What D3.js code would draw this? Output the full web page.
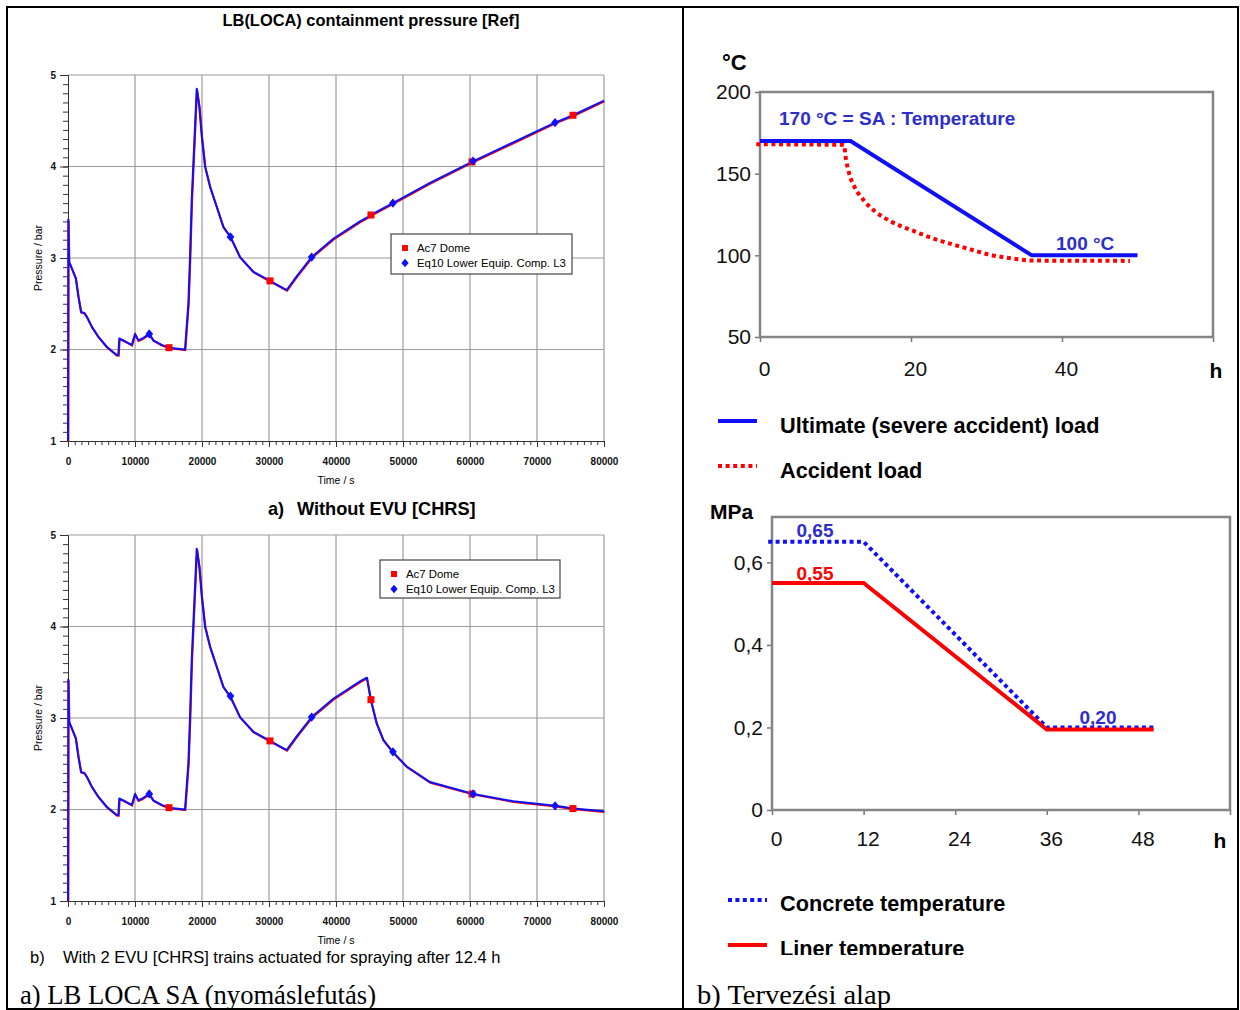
<!DOCTYPE html>
<html>
<head>
<meta charset="utf-8">
<script src="https://cdn.jsdelivr.net/npm/d3@7"></script>
<style>
  body { margin: 0; background: #fff; }
  svg { display: block; font-family: "Liberation Sans", Arial, sans-serif; }
</style>
</head>
<body>
<svg id="fig" width="1240" height="1010"></svg>
<script>
// ---------------- data ----------------
// Left: LB LOCA containment pressure (bar) versus time (s)
const timeTicks = [0, 10000, 20000, 30000, 40000, 50000, 60000, 70000, 80000];
const pressureTicks = [1, 2, 3, 4, 5];

// common history until spray actuation at 12.4 h
const baseTime = [0, 45, 150, 550, 1150, 1540, 1940, 2430, 2790, 3540, 4520, 5780, 7270, 7510,
  7660, 8510, 9510, 10000, 10490, 11090, 12130, 12730, 13990, 15070, 17460, 17960, 18210, 18460,
  19210, 19600, 19960, 20450, 21190, 22190, 23180, 24250, 25670, 27660, 30150, 32640, 34130,
  36370, 39600, 43580, 44600];
const basePressure = [1.00, 3.42, 2.96, 2.89, 2.78, 2.58, 2.41, 2.40, 2.36, 2.25, 2.14, 2.03, 1.94, 1.94,
  2.12, 2.09, 2.05, 2.17, 2.10, 2.12, 2.17, 2.10, 2.05, 2.02, 2.00, 2.50, 3.01, 3.63,
  4.85, 4.65, 4.33, 4.00, 3.78, 3.56, 3.34, 3.23, 3.01, 2.85, 2.75, 2.65, 2.80,
  3.01, 3.21, 3.40, 3.44];

// a) without EVU
const caseATime = [45220, 48500, 54030, 60300, 72700, 75370, 80000];
const caseAPressure = [3.47, 3.60, 3.82, 4.05, 4.48, 4.56, 4.72];
// b) with 2 EVU trains spraying after 12.4 h
const caseBTime = [45180, 46070, 47060, 48460, 50550, 54030, 60500, 66460, 72730, 75470, 80000];
const caseBPressure = [3.20, 2.94, 2.76, 2.63, 2.47, 2.30, 2.17, 2.09, 2.04, 2.01, 1.98];

// marker samples
const ac7Time = [15070, 30150, 45220, 60300, 75370];
const ac7PressureA = [2.02, 2.75, 3.47, 4.05, 4.56];
const ac7PressureB = [2.02, 2.75, 3.20, 2.17, 2.01];
const eq10Time = [12130, 24250, 36370, 48500, 60450, 72700];
const eq10PressureA = [2.17, 3.23, 3.01, 3.60, 4.06, 4.48];
const eq10PressureB = [2.17, 3.24, 3.01, 2.63, 2.17, 2.04];

const seriesNames = ["Ac7 Dome", "Eq10 Lower Equip. Comp. L3"];

// Right top: temperature design basis (°C) versus time (h)
const tempTicks = [50, 100, 150, 200];
const tempHourTicks = [0, 20, 40, 60];
const ultimateHours = [0, 12, 36, 50];
const ultimateTemp = [170, 170, 100, 100];
const accidentHours = [-0.5, 11.1, 11.4, 11.8, 12.5, 13.7, 15.3, 17.4, 20.0, 23.2, 26.9, 30.6, 33.9, 36.0, 49.0];
const accidentTemp = [168, 167.6, 158.4, 150.2, 142.1, 133.9, 126.7, 120.6, 115.5, 109.9, 104.9, 100.2, 97.8, 96.8, 96.6];

// Right bottom: pressure design basis (MPa) versus time (h)
const mpaTicks = [0, 0.2, 0.4, 0.6];
const mpaHourTicks = [0, 12, 24, 36, 48, 60];
const concreteHours = [-0.5, 12, 36, 50];
const concreteMPa = [0.65, 0.65, 0.20, 0.20];
const linerHours = [0, 12, 36, 50];
const linerMPa = [0.55, 0.55, 0.195, 0.195];

// ---------------- drawing ----------------
const svg = d3.select("#fig");
const BLUE = "#1010f8", RED = "#ff0000", LABEL_BLUE = "#2e2ec8";
const SANS = "Liberation Sans, Arial, sans-serif";
const zip = (xs, ys) => xs.map((v, i) => [v, ys[i]]);

// table frame
svg.append("rect").attr("x", 7).attr("y", 7).attr("width", 1231).attr("height", 1002)
  .attr("fill", "none").attr("stroke", "#000").attr("stroke-width", 2);
svg.append("line").attr("x1", 683).attr("x2", 683).attr("y1", 7).attr("y2", 1009)
  .attr("stroke", "#000").attr("stroke-width", 2);

function diamond(sel, cx, cy, r, color) {
  sel.append("path").attr("d", `M${cx},${cy - r}L${cx + r * 0.85},${cy}L${cx},${cy + r}L${cx - r * 0.85},${cy}Z`)
    .attr("fill", color);
}

function pressurePanel(top, curve, ac7P, eq10P, legendBox) {
  const x = d3.scaleLinear().domain([0, 80000]).range([68, 604]);
  const y = d3.scaleLinear().domain([1, 5]).range([top + 366, top]);
  const g = svg.append("g");

  // grid and outer frame
  g.append("g").selectAll("line").data(timeTicks.slice(1)).join("line")
    .attr("x1", d => x(d)).attr("x2", d => x(d)).attr("y1", y(1)).attr("y2", y(5))
    .attr("stroke", "#9c9c9c").attr("stroke-width", 1.2);
  g.append("g").selectAll("line").data(pressureTicks.slice(1)).join("line")
    .attr("x1", x(0)).attr("x2", x(80000)).attr("y1", d => y(d)).attr("y2", d => y(d))
    .attr("stroke", "#9c9c9c").attr("stroke-width", 1.2);

  // x axis: minor + major
  g.append("g").attr("transform", `translate(0,${y(1)})`)
    .call(d3.axisBottom(x).tickValues(d3.range(0, 80001, 1000)).tickSize(4).tickSizeOuter(0).tickFormat(""))
    .call(a => a.selectAll("line,path").attr("stroke", "#333"));
  const xa = g.append("g").attr("transform", `translate(0,${y(1)})`)
    .call(d3.axisBottom(x).tickValues(timeTicks).tickSize(6).tickSizeOuter(0).tickPadding(11).tickFormat(d3.format("d")));
  xa.selectAll("line,path").attr("stroke", "#333");
  xa.selectAll("text").attr("font-size", 10).attr("font-weight", "bold").attr("fill", "#111")
    .attr("font-family", SANS);

  // y axis: minor + major
  g.append("g").attr("transform", `translate(${x(0)},0)`)
    .call(d3.axisLeft(y).tickValues(d3.range(10, 51).map(v => v / 10)).tickSize(5).tickSizeOuter(0).tickFormat(""))
    .call(a => a.selectAll("line,path").attr("stroke", "#333"));
  const ya = g.append("g").attr("transform", `translate(${x(0)},0)`)
    .call(d3.axisLeft(y).tickValues(pressureTicks).tickSize(8).tickSizeOuter(0).tickPadding(4).tickFormat(d3.format("d")));
  ya.selectAll("line,path").attr("stroke", "#333");
  ya.selectAll("text").attr("font-size", 10).attr("font-weight", "bold").attr("fill", "#111")
    .attr("font-family", SANS);

  g.append("text").attr("x", 336).attr("y", top + 405).attr("text-anchor", "middle")
    .attr("dominant-baseline", "central").attr("font-size", 10.5).text("Time / s");
  g.append("text").attr("transform", `translate(38,${top + 183}) rotate(-90)`)
    .attr("text-anchor", "middle").attr("dominant-baseline", "central").attr("font-size", 10.5)
    .text("Pressure / bar");

  // both series follow the same trace; Ac7 Dome sits just under Eq10
  const line = d3.line().x(d => x(d[0])).y(d => y(d[1]));
  g.append("path").datum(curve).attr("d", line).attr("fill", "none")
    .attr("stroke", RED).attr("stroke-width", 2).attr("transform", "translate(0.4,0.7)");
  g.append("path").datum(curve).attr("d", line).attr("fill", "none")
    .attr("stroke", BLUE).attr("stroke-width", 2).attr("stroke-linejoin", "round");

  zip(ac7Time, ac7P).forEach(([t, p]) => {
    g.append("rect").attr("x", x(t) - 3.5).attr("y", y(p) - 3.5).attr("width", 7).attr("height", 7).attr("fill", RED);
  });
  zip(eq10Time, eq10P).forEach(([t, p]) => diamond(g, x(t), y(p), 4.6, BLUE));

  // legend
  const [lx, ly, lw, lh] = legendBox;
  g.append("rect").attr("x", lx).attr("y", ly).attr("width", lw).attr("height", lh)
    .attr("fill", "#fff").attr("stroke", "#444").attr("stroke-width", 1.2);
  g.append("rect").attr("x", lx + 11).attr("y", ly + 11).attr("width", 6).attr("height", 6).attr("fill", RED);
  diamond(g, lx + 14, ly + 29, 4.3, BLUE);
  g.append("text").attr("x", lx + 26).attr("y", ly + 14).attr("dominant-baseline", "central")
    .attr("font-size", 11.4).text(seriesNames[0]);
  g.append("text").attr("x", lx + 26).attr("y", ly + 29).attr("dominant-baseline", "central")
    .attr("font-size", 11.4).text(seriesNames[1]);
}

const curveA = zip(baseTime.concat(caseATime), basePressure.concat(caseAPressure));
const curveB = zip(baseTime.concat(caseBTime), basePressure.concat(caseBPressure));

svg.append("text").attr("x", 371).attr("y", 20).attr("text-anchor", "middle").attr("dominant-baseline", "central")
  .attr("font-size", 16.4).attr("font-weight", "bold").text("LB(LOCA) containment pressure [Ref]");

pressurePanel(75, curveA, ac7PressureA, eq10PressureA, [391, 234, 181, 40]);
pressurePanel(535, curveB, ac7PressureB, eq10PressureB, [380, 560, 180, 38]);

svg.append("text").attr("x", 268).attr("y", 509).attr("dominant-baseline", "central")
  .attr("font-size", 18.2).attr("font-weight", "bold").text("a)");
svg.append("text").attr("x", 297).attr("y", 509).attr("dominant-baseline", "central")
  .attr("font-size", 18.2).attr("font-weight", "bold").text("Without EVU [CHRS]");
svg.append("text").attr("x", 30).attr("y", 957).attr("dominant-baseline", "central")
  .attr("font-size", 16.5).text("b)");
svg.append("text").attr("x", 63).attr("y", 957).attr("dominant-baseline", "central")
  .attr("font-size", 16.5).text("With 2 EVU [CHRS] trains actuated for spraying after 12.4 h");

// ---------- right: design basis ----------
const defs = svg.append("defs");
defs.append("clipPath").attr("id", "rightClip").append("rect")
  .attr("x", 684).attr("y", 8).attr("width", 554).attr("height", 947);
const R = svg.append("g").attr("clip-path", "url(#rightClip)");

function framedAxes(x, y, yTicks, yFmt, xTicks, xPad) {
  const g = R.append("g");
  const [x0, x1] = x.range(), [y0, y1] = y.range();
  const ya = g.append("g").attr("transform", `translate(${x0},0)`)
    .call(d3.axisLeft(y).tickValues(yTicks).tickSize(5).tickSizeOuter(0).tickPadding(4).tickFormat(yFmt));
  const xa = g.append("g").attr("transform", `translate(0,${y0})`)
    .call(d3.axisBottom(x).tickValues(xTicks).tickSize(5).tickSizeOuter(0).tickPadding(xPad)
      .tickFormat(d => d === 60 ? "" : d));
  [ya, xa].forEach(a => {
    a.select(".domain").remove();
    a.selectAll("line").attr("stroke", "#777").attr("stroke-width", 1.5);
    a.selectAll("text").attr("font-size", 21).attr("fill", "#111").attr("font-family", SANS);
  });
  xa.selectAll("text").attr("dx", 4);
  g.append("rect").attr("x", x0).attr("y", y1).attr("width", x1 - x0).attr("height", y0 - y1)
    .attr("fill", "none").attr("stroke", "#858585").attr("stroke-width", 2.5);
  return g;
}

// temperature chart
const xT = d3.scaleLinear().domain([0, 60]).range([760, 1213]);
const yT = d3.scaleLinear().domain([50, 200]).range([337, 92]);
framedAxes(xT, yT, tempTicks, d3.format("d"), tempHourTicks, 19);
R.append("text").attr("x", 722).attr("y", 62).attr("dominant-baseline", "central")
  .attr("font-size", 22).attr("font-weight", "bold").text("°C");
R.append("text").attr("x", 1216).attr("y", 370).attr("text-anchor", "middle").attr("dominant-baseline", "central")
  .attr("font-size", 21).attr("font-weight", "bold").text("h");

R.append("path").datum(zip(accidentHours, accidentTemp))
  .attr("d", d3.line().x(d => xT(d[0])).y(d => yT(d[1])).curve(d3.curveMonotoneX)).attr("fill", "none")
  .attr("stroke", RED).attr("stroke-width", 4).attr("stroke-dasharray", "4 3.6");
R.append("path").datum(zip(ultimateHours, ultimateTemp))
  .attr("d", d3.line().x(d => xT(d[0])).y(d => yT(d[1]))).attr("fill", "none")
  .attr("stroke", BLUE).attr("stroke-width", 4);
R.append("text").attr("x", 779).attr("y", 118).attr("dominant-baseline", "central")
  .attr("font-size", 19).attr("font-weight", "bold").attr("fill", LABEL_BLUE)
  .text(`${ultimateTemp[0]} °C = SA : Temperature`);
R.append("text").attr("x", 1056).attr("y", 243).attr("dominant-baseline", "central")
  .attr("font-size", 19).attr("font-weight", "bold").attr("fill", LABEL_BLUE)
  .text(`${ultimateTemp[3]} °C`);

// temperature legend
R.append("line").attr("x1", 718).attr("x2", 757).attr("y1", 421).attr("y2", 421)
  .attr("stroke", BLUE).attr("stroke-width", 4);
R.append("text").attr("x", 780).attr("y", 425).attr("dominant-baseline", "central")
  .attr("font-size", 21.7).attr("font-weight", "bold").text("Ultimate (severe accident) load");
R.append("line").attr("x1", 718).attr("x2", 757).attr("y1", 466).attr("y2", 466)
  .attr("stroke", RED).attr("stroke-width", 4).attr("stroke-dasharray", "4 3.6");
R.append("text").attr("x", 780).attr("y", 470).attr("dominant-baseline", "central")
  .attr("font-size", 21.7).attr("font-weight", "bold").text("Accident load");

// pressure chart
const commaFmt = d => d === 0 ? "0" : d.toFixed(1).replace(".", ",");
const xP = d3.scaleLinear().domain([0, 60]).range([772, 1230]);
const yP = d3.scaleLinear().domain([0, 0.71]).range([810, 517]);
framedAxes(xP, yP, mpaTicks, commaFmt, mpaHourTicks, 16);
R.append("text").attr("x", 710).attr("y", 511).attr("dominant-baseline", "central")
  .attr("font-size", 21).attr("font-weight", "bold").text("MPa");
R.append("text").attr("x", 1220).attr("y", 840).attr("text-anchor", "middle").attr("dominant-baseline", "central")
  .attr("font-size", 21).attr("font-weight", "bold").text("h");

const lineP = d3.line().x(d => xP(d[0])).y(d => yP(d[1]));
R.append("path").datum(zip(concreteHours, concreteMPa)).attr("d", lineP).attr("fill", "none")
  .attr("stroke", BLUE).attr("stroke-width", 4).attr("stroke-dasharray", "4 3.4");
R.append("path").datum(zip(linerHours, linerMPa)).attr("d", lineP).attr("fill", "none")
  .attr("stroke", RED).attr("stroke-width", 4);
const fmt2 = v => v.toFixed(2).replace(".", ",");
R.append("text").attr("x", 815).attr("y", 530).attr("text-anchor", "middle").attr("dominant-baseline", "central")
  .attr("font-size", 19).attr("font-weight", "bold").attr("fill", LABEL_BLUE).text(fmt2(concreteMPa[0]));
R.append("text").attr("x", 815).attr("y", 573).attr("text-anchor", "middle").attr("dominant-baseline", "central")
  .attr("font-size", 19).attr("font-weight", "bold").attr("fill", RED).text(fmt2(linerMPa[0]));
R.append("text").attr("x", 1098).attr("y", 717).attr("text-anchor", "middle").attr("dominant-baseline", "central")
  .attr("font-size", 19).attr("font-weight", "bold").attr("fill", LABEL_BLUE).text(fmt2(concreteMPa[3]));

// pressure legend
R.append("line").attr("x1", 728).attr("x2", 767).attr("y1", 900).attr("y2", 900)
  .attr("stroke", BLUE).attr("stroke-width", 4).attr("stroke-dasharray", "4 3.4");
R.append("text").attr("x", 780).attr("y", 903).attr("dominant-baseline", "central")
  .attr("font-size", 21.7).attr("font-weight", "bold").text("Concrete temperature");
R.append("line").attr("x1", 728).attr("x2", 767).attr("y1", 945).attr("y2", 945)
  .attr("stroke", RED).attr("stroke-width", 4);
R.append("text").attr("x", 780).attr("y", 948).attr("dominant-baseline", "central")
  .attr("font-size", 21.7).attr("font-weight", "bold").text("Liner temperature");

// table captions
svg.append("text").attr("x", 20).attr("y", 995).attr("dominant-baseline", "central")
  .attr("font-family", "Liberation Serif, serif").attr("font-size", 26.5)
  .attr("textLength", 356).attr("lengthAdjust", "spacingAndGlyphs").text("a) LB LOCA SA (nyomáslefutás)");
svg.append("text").attr("x", 697).attr("y", 995).attr("dominant-baseline", "central")
  .attr("font-family", "Liberation Serif, serif").attr("font-size", 26.5)
  .attr("textLength", 194).attr("lengthAdjust", "spacingAndGlyphs").text("b) Tervezési alap");
</script>
</body>
</html>
